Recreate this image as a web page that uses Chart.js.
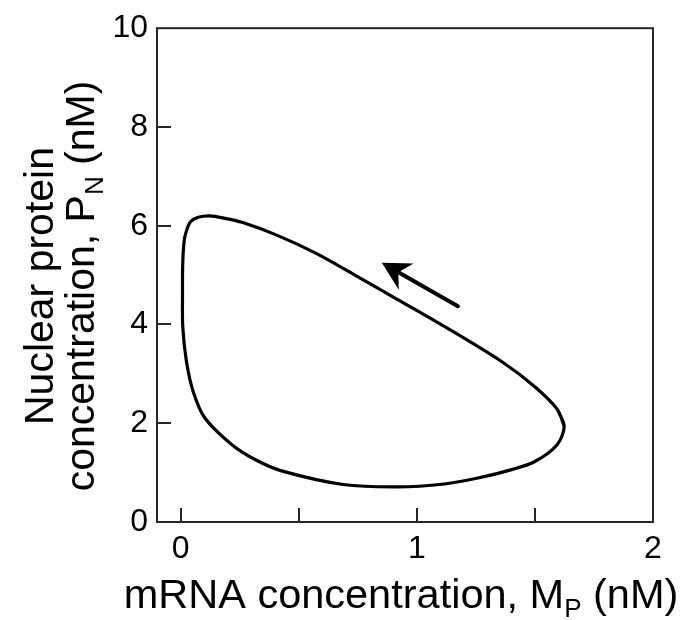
<!DOCTYPE html>
<html>
<head>
<meta charset="utf-8">
<script src="https://cdn.jsdelivr.net/npm/chart.js@4/dist/chart.umd.min.js"></script>
<style>
html,body{margin:0;padding:0;background:#fff;}
#c{display:block;}
</style>
</head>
<body>
<canvas id="c" width="698" height="620"></canvas>
<script>
// ---- data ----
const mRNA = [1.624, 1.595, 1.502, 1.359, 1.117, 0.917, 0.745, 0.574, 0.402, 0.260, 0.188, 0.124, 0.074, 0.042, 0.027, 0.016, 0.009, 0.008, 0.009, 0.024, 0.052, 0.102, 0.216, 0.317, 0.431, 0.688, 0.917, 1.117, 1.259, 1.402, 1.502, 1.595, 1.624, 1.595];
const nuclearProtein = [1.94, 2.28, 2.73, 3.25, 3.96, 4.51, 4.98, 5.44, 5.82, 6.07, 6.15, 6.20, 6.17, 6.08, 5.93, 5.73, 5.25, 4.60, 3.96, 3.27, 2.66, 2.11, 1.57, 1.26, 1.03, 0.76, 0.71, 0.77, 0.89, 1.06, 1.23, 1.57, 1.94, 2.28];
const arrowX = [1.174, 0.852];   // tail, tip
const arrowY = [4.37, 5.25];
const xTickLabelValues = [0, 1, 2];
const xTickMarkValues = [0, 0.5, 1, 1.5];
const yTickLabelValues = [0, 2, 4, 6, 8, 10];
const yTickMarkValues = [2, 4, 6, 8];
const xTitleParts = [{t: 'mRNA concentration, M'}, {t: 'P', sub: true}, {t: ' (nM)'}];
const yTitleLine1 = [{t: 'Nuclear protein'}];
const yTitleLine2 = [{t: 'concentration, P'}, {t: 'N', sub: true}, {t: ' (nM)'}];

const FONT = "'Liberation Sans', Arial, Helvetica, sans-serif";

const framePlugin = {
  id: 'frame',
  beforeDatasetsDraw(chart) {
    const {ctx, chartArea: a} = chart;
    const xs = chart.scales.x, ys = chart.scales.y;
    ctx.save();
    ctx.strokeStyle = '#262626';
    ctx.lineWidth = 2;
    ctx.strokeRect(a.left, a.top, a.right - a.left, a.bottom - a.top);
    ctx.beginPath();
    xTickMarkValues.forEach(v => {
      const px = Math.round(xs.getPixelForValue(v));
      ctx.moveTo(px, a.bottom); ctx.lineTo(px, a.bottom - 14);
    });
    yTickMarkValues.forEach(v => {
      const py = Math.round(ys.getPixelForValue(v));
      ctx.moveTo(a.left, py); ctx.lineTo(a.left + 14, py);
    });
    ctx.stroke();
    ctx.restore();
  }
};

function drawParts(ctx, parts, size, subSize, subOff) {
  let total = 0;
  parts.forEach(p => {
    ctx.font = (p.sub ? subSize : size) + 'px ' + FONT;
    p.w = ctx.measureText(p.t).width;
    total += p.w;
  });
  let x0 = -total / 2;
  parts.forEach(p => {
    ctx.font = (p.sub ? subSize : size) + 'px ' + FONT;
    ctx.fillText(p.t, x0, p.sub ? subOff : 0);
    x0 += p.w;
  });
}

const titlePlugin = {
  id: 'titles',
  afterDraw(chart) {
    const {ctx, chartArea: a} = chart;
    ctx.save();
    ctx.fillStyle = '#000';
    ctx.textAlign = 'left';
    ctx.textBaseline = 'alphabetic';
    // x title
    ctx.save();
    ctx.translate(401, 608);
    drawParts(ctx, xTitleParts, 41.5, 26, 9);
    ctx.restore();
    // y title (two lines)
    const cy = 286;
    ctx.save();
    ctx.translate(53, cy);
    ctx.rotate(-Math.PI / 2);
    drawParts(ctx, yTitleLine1, 41, 26, 9);
    ctx.restore();
    ctx.save();
    ctx.translate(94, cy);
    ctx.rotate(-Math.PI / 2);
    drawParts(ctx, yTitleLine2, 41, 26, 9);
    ctx.restore();
    ctx.restore();
  }
};

const arrowPlugin = {
  id: 'arrow',
  afterDatasetsDraw(chart) {
    const meta = chart.getDatasetMeta(1);
    const tail = meta.data[0], tip = meta.data[1];
    const ctx = chart.ctx;
    const dx = tip.x - tail.x, dy = tip.y - tail.y;
    const ang = Math.atan2(dy, dx);
    const len = Math.hypot(dx, dy);
    ctx.save();
    ctx.translate(tip.x, tip.y);
    ctx.rotate(ang);
    ctx.strokeStyle = '#000';
    ctx.fillStyle = '#000';
    ctx.lineWidth = 4;
    ctx.lineCap = 'round';
    ctx.beginPath();
    ctx.moveTo(-len, 0);
    ctx.lineTo(-16, 0);
    ctx.stroke();
    ctx.beginPath();
    ctx.moveTo(0, 0);
    ctx.lineTo(-28, -15);
    ctx.lineTo(-19, 0);
    ctx.lineTo(-28, 15);
    ctx.closePath();
    ctx.fill();
    ctx.restore();
  }
};

new Chart(document.getElementById('c'), {
  type: 'scatter',
  data: {
    datasets: [
      {
        data: mRNA.map((v, i) => ({x: v, y: nuclearProtein[i]})),
        showLine: true,
        borderColor: '#000',
        borderWidth: 3.2,
        pointRadius: 0,
        tension: 0.3,
        fill: false
      },
      {
        data: arrowX.map((v, i) => ({x: v, y: arrowY[i]})),
        showLine: false,
        pointRadius: 0
      }
    ]
  },
  options: {
    responsive: false,
    animation: false,
    devicePixelRatio: 1,
    layout: {padding: {top: 26, right: 45, left: 0, bottom: 0}},
    plugins: {legend: {display: false}, tooltip: {enabled: false}},
    scales: {
      x: {
        type: 'linear', min: -0.1, max: 2,
        grid: {display: false, drawTicks: false}, border: {display: false},
        afterBuildTicks: s => { s.ticks = xTickLabelValues.map(v => ({value: v})); },
        ticks: {font: {family: FONT, size: 32}, color: '#000', padding: 8, maxRotation: 0, autoSkip: false, callback: v => String(v)},
        afterFit: s => { s.height = 98; }
      },
      y: {
        type: 'linear', min: 0, max: 10,
        grid: {display: false, drawTicks: false}, border: {display: false},
        afterBuildTicks: s => { s.ticks = yTickLabelValues.map(v => ({value: v})); },
        ticks: {font: {family: FONT, size: 32}, color: '#000', padding: 9, autoSkip: false, callback: v => String(v)},
        afterFit: s => { s.width = 157; }
      }
    }
  },
  plugins: [framePlugin, titlePlugin, arrowPlugin]
});
</script>
</body>
</html>
